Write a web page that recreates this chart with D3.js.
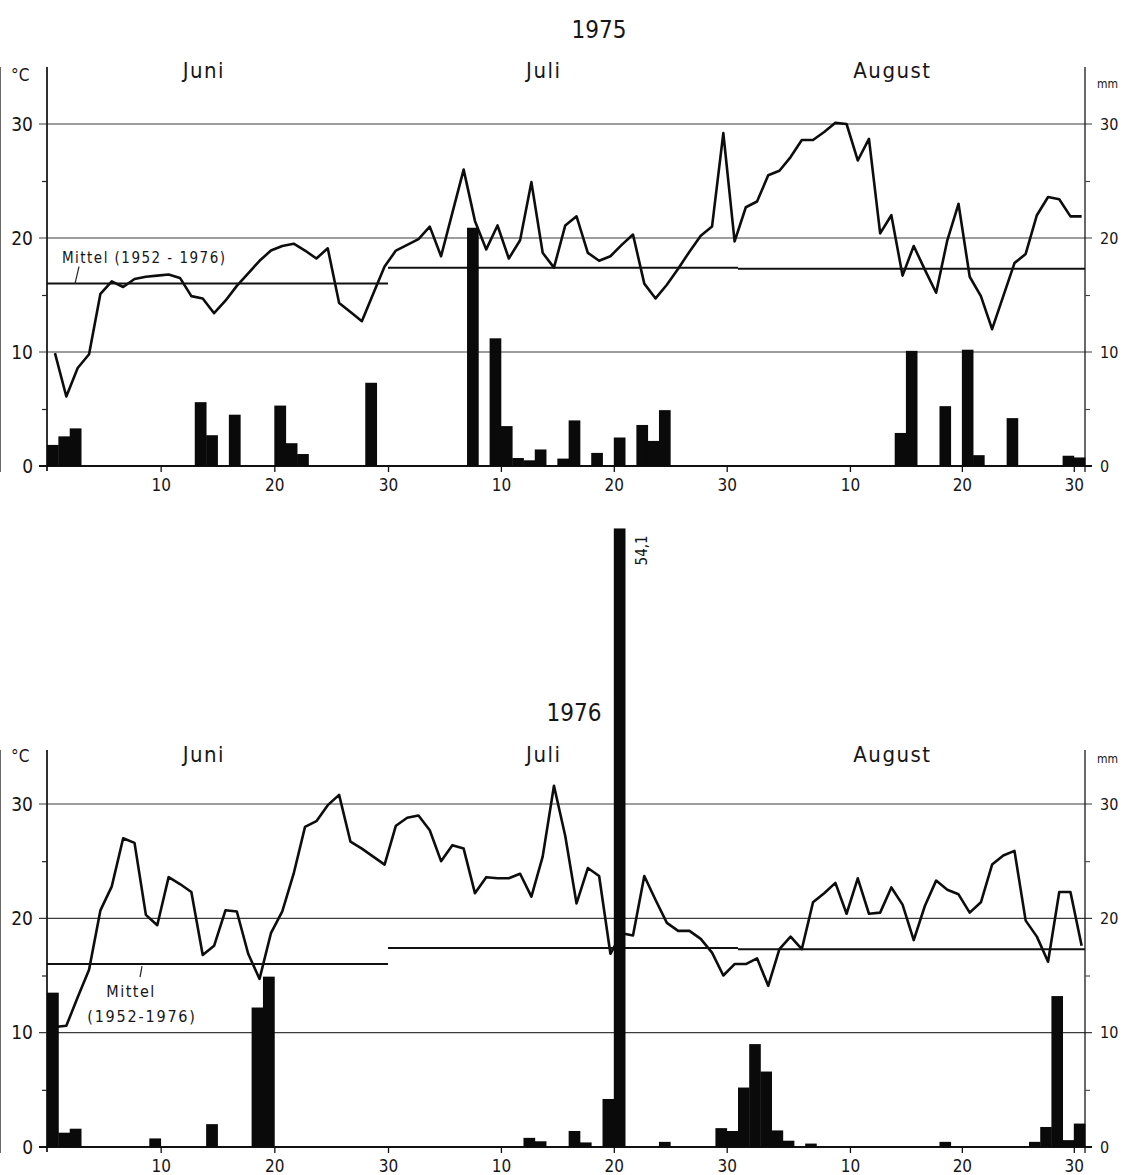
<!DOCTYPE html>
<html>
<head>
<meta charset="utf-8">
<script src="https://cdn.jsdelivr.net/npm/d3@7"></script>
<style>
body { margin: 0; background: #fff; }
svg text { font-family: "DejaVu Sans Condensed", "DejaVu Sans", sans-serif; fill: #161616; }
</style>
</head>
<body>
<svg id="chart" width="1123" height="1175"></svg>
<script>
// months shown in both panels
var months = ["Juni", "Juli", "August"];
var monthDays = [30, 31, 31];
var dayTicks = [10, 20, 30];
var tempTicks = [0, 10, 20, 30];
var minorTicks = [5, 15, 25];
// Mittel (1952 - 1976) per month, °C
var mittel = [16.0, 17.4, 17.3];

// daily mean temperature, °C
var temp1975Juni = [9.9, 6.1, 8.6, 9.8, 15.1, 16.2, 15.7, 16.4, 16.6, 16.7, 16.8, 16.5, 14.9, 14.7, 13.4,
    14.5, 15.8, 16.9, 18.0, 18.9, 19.3, 19.5, 18.9, 18.2, 19.1, 14.3, 13.5, 12.7, 15.1, 17.5];
var temp1975Juli = [18.9, 19.4, 19.9, 21.0, 18.4, 22.2, 26.0, 21.5, 19.0, 21.1, 18.2, 19.8, 24.9, 18.7, 17.4,
    21.1, 21.9, 18.7, 18.0, 18.4, 19.4, 20.3, 16.0, 14.7, 15.9, 17.3, 18.8, 20.2, 21.0, 29.2, 19.7];
var temp1975August = [22.7, 23.2, 25.5, 25.9, 27.1, 28.6, 28.6, 29.3, 30.1, 30.0, 26.8, 28.7, 20.4, 22.0, 16.7,
    19.3, 17.2, 15.2, 19.8, 23.0, 16.6, 14.9, 12.0, 14.9, 17.8, 18.6, 22.0, 23.6, 23.4, 21.9, 21.9];
var temp1976Juni = [10.5, 10.6, 13.1, 15.5, 20.7, 22.8, 27.0, 26.6, 20.3, 19.4, 23.6, 23.0, 22.3, 16.8, 17.6,
    20.7, 20.6, 16.9, 14.7, 18.7, 20.6, 23.9, 28.0, 28.5, 29.9, 30.8, 26.7, 26.1, 25.4, 24.7];
var temp1976Juli = [28.1, 28.8, 29.0, 27.7, 25.0, 26.4, 26.1, 22.2, 23.6, 23.5, 23.5, 23.9, 21.9, 25.4, 31.6,
    27.2, 21.3, 24.4, 23.7, 16.9, 18.7, 18.5, 23.7, 21.6, 19.6, 18.9, 18.9, 18.2, 17.0, 15.0, 16.0];
var temp1976August = [16.0, 16.5, 14.1, 17.3, 18.4, 17.3, 21.4, 22.2, 23.1, 20.4, 23.5, 20.4, 20.5, 22.7, 21.2,
    18.1, 21.1, 23.3, 22.5, 22.1, 20.5, 21.4, 24.7, 25.5, 25.9, 19.8, 18.4, 16.2, 22.3, 22.3, 17.6];

// daily precipitation, [day, mm] (days without rain left out)
var rain1975Juni = [[1, 1.85], [2, 2.6], [3, 3.3], [14, 5.6], [15, 2.7], [17, 4.5], [21, 5.3], [22, 2.0],
    [23, 1.05], [29, 7.3]];
var rain1975Juli = [[8, 20.9], [10, 11.2], [11, 3.5], [12, 0.7], [13, 0.5], [14, 1.45], [16, 0.65], [17, 4.0],
    [19, 1.15], [21, 2.5], [23, 3.6], [24, 2.2], [25, 4.9]];
var rain1975August = [[15, 2.9], [16, 10.1], [19, 5.25], [21, 10.2], [22, 0.95], [25, 4.2], [30, 0.9], [31, 0.75]];
var rain1976Juni = [[1, 13.5], [2, 1.25], [3, 1.6], [10, 0.75], [15, 2.0], [19, 12.2], [20, 14.9]];
var rain1976Juli = [[13, 0.8], [14, 0.5], [17, 1.4], [18, 0.4], [20, 4.2], [21, 54.1], [25, 0.45], [30, 1.65],
    [31, 1.4]];
var rain1976August = [[1, 5.2], [2, 9.0], [3, 6.6], [4, 1.45], [5, 0.55], [7, 0.3], [19, 0.45], [27, 0.45],
    [28, 1.75], [29, 13.2], [30, 0.6], [31, 2.05]];

var FONT = "DejaVu Sans Condensed, DejaVu Sans, sans-serif";
var svg = d3.select("#chart");
var offsets = d3.cumsum([0].concat(monthDays.slice(0, -1)));   // 0, 30, 61
var nDays = d3.sum(monthDays);
// the drawing is not quite even from month to month, so one segment per month
var x = d3.scaleLinear().domain([0, 30, 61, 92]).range([47, 388, 738, 1085]);

var panels = [
    { year: "1975", temps: [temp1975Juni, temp1975Juli, temp1975August],
      rain: [rain1975Juni, rain1975Juli, rain1975August],
      base: 466, y30: 124, top: 67, titleX: 599, titleY: 38, monthY: 78, unitY: 81, mmY: 88 },
    { year: "1976", temps: [temp1976Juni, temp1976Juli, temp1976August],
      rain: [rain1976Juni, rain1976Juli, rain1976August],
      base: 1147, y30: 804, top: 750, titleX: 574, titleY: 721, monthY: 762, unitY: 762, mmY: 763 }
];

function drawPanel(p) {
    var y = d3.scaleLinear().domain([0, 30]).range([p.base, p.y30]);
    var g = svg.append("g").attr("class", "panel");

    // horizontal grid lines
    g.selectAll(".grid").data(tempTicks.slice(1)).enter().append("line")
        .attr("x1", x(0) - 8).attr("x2", x(nDays) + 7)
        .attr("y1", function(d) { return y(d); }).attr("y2", function(d) { return y(d); })
        .attr("stroke", "#3c3c3c").attr("stroke-width", 1.2);

    // axis lines + month borders
    var verticals = [0].concat(offsets.slice(1), [nDays]);
    g.selectAll(".vline").data(verticals).enter().append("line")
        .attr("x1", function(d) { return x(d); }).attr("x2", function(d) { return x(d); })
        .attr("y1", p.top).attr("y2", function(d, i) { return i == 0 ? p.base + 5 : p.base + 6; })
        .attr("stroke", "#1a1a1a").attr("stroke-width", function(d, i) { return i == 0 ? 1.8 : 1.3; });

    // zero line
    g.append("line").attr("x1", x(0) - 8).attr("x2", x(nDays) + 7)
        .attr("y1", y(0)).attr("y2", y(0)).attr("stroke", "#111").attr("stroke-width", 2);

    // left axis, °C
    var left = g.append("g").attr("transform", "translate(" + x(0) + ",0)")
        .call(d3.axisLeft(y).tickValues(tempTicks).tickSize(8).tickPadding(6));
    left.select(".domain").remove();
    left.selectAll("line").remove();
    left.selectAll("text").attr("font-size", 19).attr("font-family", FONT).attr("fill", "#161616");
    var leftMinor = g.append("g").attr("transform", "translate(" + x(0) + ",0)")
        .call(d3.axisLeft(y).tickValues(minorTicks).tickSize(5).tickFormat(""));
    leftMinor.select(".domain").remove();
    leftMinor.selectAll("line").attr("stroke", "#222").attr("stroke-width", 1.2);

    // right axis, mm
    var right = g.append("g").attr("transform", "translate(" + x(nDays) + ",0)")
        .call(d3.axisRight(y).tickValues(tempTicks).tickSize(7).tickPadding(8));
    right.select(".domain").remove();
    right.selectAll("line").remove();
    right.selectAll("text").attr("font-size", 16).attr("font-family", FONT).attr("fill", "#666");
    var rightMinor = g.append("g").attr("transform", "translate(" + x(nDays) + ",0)")
        .call(d3.axisRight(y).tickValues(minorTicks).tickSize(5).tickFormat(""));
    rightMinor.select(".domain").remove();
    rightMinor.selectAll("line").attr("stroke", "#444").attr("stroke-width", 1.1);

    // day ticks along the bottom
    var tickT = [], tickLab = [];
    offsets.forEach(function(o) {
        dayTicks.forEach(function(d) { tickT.push(o + d); tickLab.push(d); });
    });
    var bottom = g.append("g").attr("transform", "translate(0," + y(0) + ")")
        .call(d3.axisBottom(x).tickValues(tickT).tickSize(6).tickPadding(7)
            .tickFormat(function(d, i) { return tickLab[i]; }));
    bottom.select(".domain").remove();
    bottom.selectAll("line").attr("stroke", "#111").attr("stroke-width", 1.3);
    bottom.selectAll("text").attr("font-size", 17).attr("font-family", FONT).attr("fill", "#161616");

    // temperature line
    var pts = [];
    p.temps.forEach(function(arr, m) {
        arr.forEach(function(v, i) { pts.push({ t: offsets[m] + i + 0.7, v: v }); });
    });
    g.append("path").datum(pts)
        .attr("fill", "none").attr("stroke", "#0d0d0d").attr("stroke-width", 2.6)
        .attr("stroke-linejoin", "round")
        .attr("d", d3.line().x(function(d) { return x(d.t); }).y(function(d) { return y(d.v); }));

    // long-term mean per month
    g.selectAll(".mittel").data(mittel).enter().append("line")
        .attr("x1", function(d, m) { return x(offsets[m]); })
        .attr("x2", function(d, m) { return x(offsets[m] + monthDays[m]); })
        .attr("y1", function(d) { return y(d); }).attr("y2", function(d) { return y(d); })
        .attr("stroke", "#111").attr("stroke-width", 2);

    // precipitation bars
    var bars = [];
    p.rain.forEach(function(arr, m) {
        arr.forEach(function(r) { bars.push({ t: offsets[m] + r[0], mm: r[1] }); });
    });
    g.selectAll(".bar").data(bars).enter().append("rect")
        .attr("x", function(d) { return x(d.t - 1); })
        .attr("width", function(d) { return x(d.t) - x(d.t - 1) + 0.4; })
        .attr("y", function(d) { return y(d.mm); })
        .attr("height", function(d) { return y(0) - y(d.mm); })
        .attr("fill", "#0a0a0a");

    // labels
    g.append("text").attr("x", p.titleX).attr("y", p.titleY).attr("text-anchor", "middle")
        .attr("font-size", 24).text(p.year);
    g.selectAll(".month").data(months).enter().append("text")
        .attr("x", function(d, m) { return x(offsets[m] + 13.8); })
        .attr("y", p.monthY).attr("text-anchor", "middle").attr("font-size", 22)
        .attr("letter-spacing", 1.5).text(function(d) { return d; });
    g.append("text").attr("x", 11).attr("y", p.unitY).attr("font-size", 17).text("°C");
    g.append("text").attr("x", x(nDays) + 12).attr("y", p.mmY)
        .attr("font-size", 12).attr("fill", "#555").text("mm");

    return { g: g, y: y, bars: bars };
}

var panel75 = drawPanel(panels[0]);
var panel76 = drawPanel(panels[1]);

// Mittel labels
panel75.g.append("text").attr("x", 62).attr("y", panel75.y(mittel[0]) - 21).attr("font-size", 15)
    .attr("textLength", 163).attr("lengthAdjust", "spacing").text("Mittel (1952 - 1976)");
panel75.g.append("line").attr("x1", 79).attr("y1", panel75.y(mittel[0]) - 17)
    .attr("x2", 75).attr("y2", panel75.y(mittel[0])).attr("stroke", "#222").attr("stroke-width", 1.2);

panel76.g.append("text").attr("x", 131).attr("y", panel76.y(mittel[0]) + 33).attr("text-anchor", "middle")
    .attr("font-size", 16).attr("letter-spacing", 1.5).text("Mittel");
panel76.g.append("text").attr("x", 142).attr("y", panel76.y(mittel[0]) + 58).attr("text-anchor", "middle")
    .attr("font-size", 16).attr("letter-spacing", 1.8).text("(1952-1976)");
panel76.g.append("line").attr("x1", 142).attr("y1", panel76.y(mittel[0]) + 2)
    .attr("x2", 140).attr("y2", panel76.y(mittel[0]) + 13).attr("stroke", "#222").attr("stroke-width", 1.2);

// value of the bar that leaves the frame
var peak = panel76.bars.reduce(function(a, b) { return b.mm > a.mm ? b : a; });
panel76.g.append("text")
    .attr("transform", "translate(" + (x(peak.t) + 22) + "," + (panel76.y(peak.mm) + 37) + ") rotate(-90)")
    .attr("font-size", 15).text(String(peak.mm).replace(".", ","));
</script>
</body>
</html>
